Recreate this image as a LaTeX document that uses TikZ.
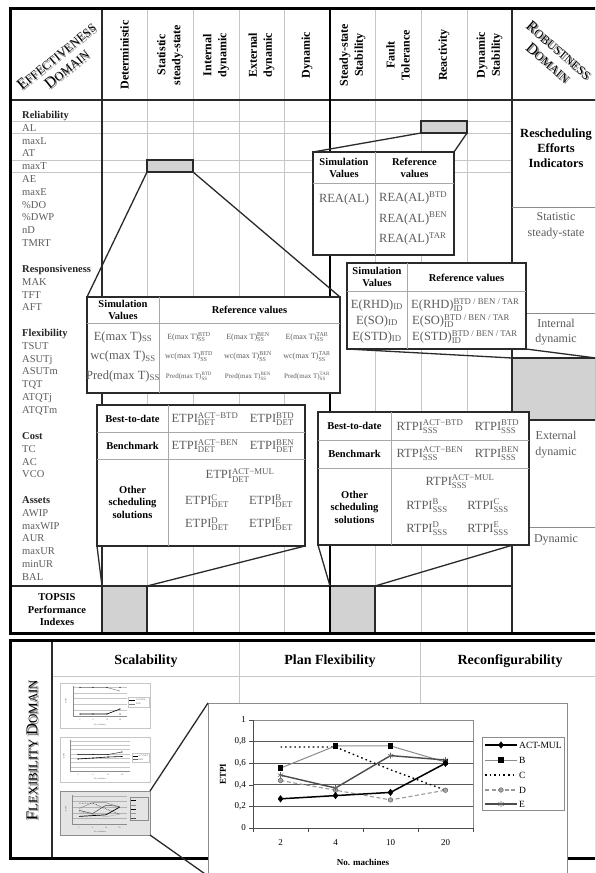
\documentclass[tikz,border=0pt]{standalone}
\usepackage{fontspec}
\setmainfont{Liberation Serif}
\usepackage{amsmath}
\usetikzlibrary{plotmarks}
\definecolor{lightln}{HTML}{C6C6C6}
\definecolor{midln}{HTML}{8C8C8C}
\definecolor{popln}{HTML}{A8A8A8}
\definecolor{darkln}{HTML}{2A2A2A}
\definecolor{txtgray}{HTML}{5C5C5C}
\definecolor{boxgray}{HTML}{D2D2D2}
\definecolor{thumbfill}{HTML}{E4E4E4}
\definecolor{shadowgray}{HTML}{8A8A8A}
\newcommand\fsz[1]{\fontsize{#1}{#1}\selectfont}
\newcommand\sps[3]{#1$^{\text{#3}}_{\text{#2}}$}
\newcommand\sbo[2]{#1$_{\text{#2}}$}
\newcommand\spo[2]{#1$^{\text{#2}}$}
\begin{document}
\begin{tikzpicture}[x=1pt,y=-1pt,
  lightl/.style={draw=lightln,line width=0.8pt},
  midl/.style={draw=midln,line width=0.9pt},
  popl/.style={draw=popln,line width=0.8pt},
  darkl/.style={draw=darkln,line width=1.3pt},
  thickl/.style={draw=black,line width=2.6pt},
  frame/.style={draw=black,line width=3pt},
  graybox/.style={draw=darkln,line width=1.2pt,fill=boxgray,inner sep=0pt,outer sep=0pt,anchor=north west},
  popup/.style={draw=darkln,line width=1.5pt,fill=white,inner sep=0pt,outer sep=0pt,anchor=north west},
  callout/.style={draw=darkln,line width=1.3pt},
  cat/.style={anchor=base west,inner sep=0pt,font=\fsz{10.5}\bfseries,text=black!85},
  item/.style={anchor=base west,inner sep=0pt,font=\fsz{10.5},text=txtgray},
  colhdr/.style={rotate=90,align=center,inner sep=0pt,font=\fontsize{12}{15}\selectfont\bfseries},
  phdr/.style={align=center,inner sep=0pt,font=\fontsize{10.5}{12.5}\selectfont\bfseries},
  val/.style={inner sep=0pt,font=\fsz{12.5},text=txtgray},
  sval/.style={inner sep=0pt,font=\fsz{8},text=txtgray},
  rlbl/.style={align=center,inner sep=0pt,font=\fontsize{12}{15.5}\selectfont,text=txtgray},
  dom/.style={align=center,inner sep=0pt,font=\fontsize{12.3}{16.5}\selectfont},
  thumb/.style={draw=lightln,line width=0.6pt,fill=white,inner sep=0pt,outer sep=0pt,anchor=north west},
  tiny/.style={inner sep=0pt,font=\fsz{2.2},text=txtgray},
  sAM/.style={draw=black,line width=1.5pt},
  mAM/.style={mark=diamond*,mark size=3.3pt,mark options={fill=black,draw=black,solid,line width=0.4pt}},
  sB/.style={draw=black!45,line width=1pt},
  mB/.style={mark=square*,mark size=2.4pt,mark options={fill=black,draw=black,solid}},
  sC/.style={draw=black,line width=1.3pt,dash pattern=on 1.6pt off 3pt},
  sD/.style={draw=black!40,line width=1.1pt,dash pattern=on 4pt off 2.5pt},
  mD/.style={mark=*,mark size=2.3pt,mark options={fill=black!35,draw=black!60,solid,line width=0.5pt}},
  sE/.style={draw=black!70,line width=1.4pt},
  mE/.style={mark=asterisk,mark size=3pt,mark options={draw=black!60,solid,line width=0.6pt}},
]
\clip (0,0) rectangle (595,873);
\fill[white] (0,0) rectangle (595,873);

% ================= TOP SECTION GRID =================
\foreach \yy in {121,133,160,172} \draw[lightl] (10,\yy) -- (512,\yy);
\foreach \xx in {147,193,239,284,375,421,467} \draw[lightl] (\xx,8) -- (\xx,633);
\draw[darkl] (10,100) -- (596,100);
\draw[darkl,line width=1.1pt] (10,586) -- (512,586);
\draw[darkl] (102,8) -- (102,633);
\draw[darkl] (512,8) -- (512,633);
\foreach \yy in {207,313,527} \draw[midl] (512,\yy) -- (596,\yy);

\node[graybox,minimum width=46,minimum height=12] (gE) at (147,160) {};
\node[graybox,minimum width=46,minimum height=12] (gR) at (421,121) {};
\node[graybox,minimum width=84,minimum height=62] (gRI) at (512,358) {};
\node[graybox,minimum width=45,minimum height=47] (gT1) at (102,586) {};
\node[graybox,minimum width=45,minimum height=47] (gT2) at (330,586) {};

\draw[thickl] (330,8) -- (330,633);
\draw[frame] (10,8) rectangle (596,633);

% ================= DOMAIN TITLES =================
\node[dom,rotate=39,text=shadowgray] (effS) at (62.9,63.9) {{\fsz{15.5}E}FFECTIVENESS\\{\fsz{15.5}D}OMAIN};
\node[dom,rotate=39,text=black] (eff) at (61.5,62.5) {{\fsz{15.5}E}FFECTIVENESS\\{\fsz{15.5}D}OMAIN};
\node[dom,rotate=-41,text=shadowgray] (robS) at (554.9,57.9) {{\fsz{15.5}R}OBUSTNESS\\{\fsz{15.5}D}OMAIN};
\node[dom,rotate=-41,text=black] (rob) at (553.5,56.5) {{\fsz{15.5}R}OBUSTNESS\\{\fsz{15.5}D}OMAIN};

% ================= COLUMN HEADERS =================
\node[colhdr] (hDet) at (124.5,55) {Deterministic};
\node[colhdr] (hSta) at (170,55) {Statistic\\steady-state};
\node[colhdr] (hInt) at (216,55) {Internal\\dynamic};
\node[colhdr] (hExt) at (261.5,55) {External\\dynamic};
\node[colhdr] (hDyn) at (307,55) {Dynamic};
\node[colhdr] (hSSS) at (352.5,55) {Steady-state\\Stability};
\node[colhdr] (hFT) at (398,55) {Fault\\Tolerance};
\node[colhdr] (hRea) at (444,55) {Reactivity};
\node[colhdr] (hDS) at (489.5,55) {Dynamic\\Stability};

% ================= LEFT LABELS =================
\foreach \t/\yy [count=\i] in {Reliability/118.5,Responsiveness/272.5,Flexibility/336.5,Cost/439.5,Assets/503.5}
  \node[cat] (cat\i) at (22,\yy) {\t};
\foreach \t/\yy [count=\i] in {AL/131.3,maxL/144.1,AT/156.9,maxT/169.7,AE/182.5,maxE/195.3,\%DO/208.1,\%DWP/220.9,nD/233.7,TMRT/246.5,
  MAK/285.3,TFT/298.1,AFT/310.9,
  TSUT/349.3,ASUTj/362.1,ASUTm/374.9,TQT/387.7,ATQTj/400.5,ATQTm/413.3,
  TC/452.3,AC/465.1,VCO/477.9,
  AWIP/516.3,maxWIP/529.1,AUR/541.9,maxUR/554.7,minUR/567.5,BAL/580.3}
  \node[item] (it\i) at (22,\yy) {\t};
\node[phdr] (topsis) at (57,610) {TOPSIS\\Performance\\Indexes};

% ================= RIGHT COLUMN LABELS =================
\node[align=center,inner sep=0pt,font=\fontsize{12.5}{15}\selectfont\bfseries] (rei) at (556,148) {Rescheduling\\Efforts\\Indicators};
\node[rlbl] (rSta) at (556,226) {Statistic\\steady-state};
\node[rlbl] (rInt) at (556,332) {Internal\\dynamic};
\node[rlbl] (rExt) at (556,444.5) {External\\dynamic};
\node[rlbl] (rDyn) at (556,540) {Dynamic};

% ================= POPUP E1 =================
\node[popup,minimum width=253,minimum height=96] (e1) at (87,297) {};
\draw[popl] (159,297) -- (159,393);
\draw[popl] (87,323) -- (340,323);
\node[phdr] (e1h1) at (123,310) {Simulation\\Values};
\node[phdr] (e1h2) at (249.5,310) {Reference values};
\node[val] (e1a) at (123,337) {\sbo{E(max T)}{SS}};
\node[val] (e1b) at (123,356.5) {\sbo{wc(max T)}{SS}};
\node[val] (e1c) at (123,376) {\sbo{Pred(max T)}{SS}};
\node[sval] (e1a1) at (189,337) {\sps{E(max T)}{SS}{BTD}};
\node[sval] (e1a2) at (248,337) {\sps{E(max T)}{SS}{BEN}};
\node[sval] (e1a3) at (307,337) {\sps{E(max T)}{SS}{TAR}};
\node[sval] (e1b1) at (189,356.5) {\sps{wc(max T)}{SS}{BTD}};
\node[sval] (e1b2) at (248,356.5) {\sps{wc(max T)}{SS}{BEN}};
\node[sval] (e1b3) at (307,356.5) {\sps{wc(max T)}{SS}{TAR}};
\node[sval,font=\fsz{7}] (e1c1) at (189,376) {\sps{Pred(max T)}{SS}{BTD}};
\node[sval,font=\fsz{7}] (e1c2) at (248,376) {\sps{Pred(max T)}{SS}{BEN}};
\node[sval,font=\fsz{7}] (e1c3) at (307,376) {\sps{Pred(max T)}{SS}{TAR}};

% ================= POPUP E2 =================
\node[popup,minimum width=208,minimum height=141] (e2) at (97,405) {};
\draw[popl] (168,405) -- (168,546);
\draw[popl] (97,432) -- (305,432);
\draw[popl] (97,459) -- (305,459);
\node[phdr] (e2h1) at (132.5,419) {Best-to-date};
\node[phdr] (e2h2) at (132.5,446) {Benchmark};
\node[phdr] (e2h3) at (132.5,502) {Other\\scheduling\\solutions};
\node[val] (e2a1) at (205,419) {\sps{ETPI}{DET}{ACT−BTD}};
\node[val] (e2a2) at (272,419) {\sps{ETPI}{DET}{BTD}};
\node[val] (e2b1) at (205,446) {\sps{ETPI}{DET}{ACT−BEN}};
\node[val] (e2b2) at (272,446) {\sps{ETPI}{DET}{BEN}};
\node[val] (e2c0) at (240,475.5) {\sps{ETPI}{DET}{ACT−MUL}};
\node[val] (e2c1) at (207,501) {\sps{ETPI}{DET}{C}};
\node[val] (e2c2) at (271,501) {\sps{ETPI}{DET}{B}};
\node[val] (e2c3) at (207,524) {\sps{ETPI}{DET}{D}};
\node[val] (e2c4) at (271,524) {\sps{ETPI}{DET}{E}};

% ================= POPUP R1 =================
\node[popup,minimum width=141,minimum height=103] (r1) at (313,152) {};
\draw[popl] (375,152) -- (375,255);
\draw[popl] (313,183) -- (454,183);
\node[phdr] (r1h1) at (344,168) {Simulation\\Values};
\node[phdr] (r1h2) at (414.5,168) {Reference\\values};
\node[val] (r1a) at (344,199) {REA(AL)};
\node[val,anchor=west] (r1b1) at (379,198) {\spo{REA(AL)}{BTD}};
\node[val,anchor=west] (r1b2) at (379,218.5) {\spo{REA(AL)}{BEN}};
\node[val,anchor=west] (r1b3) at (379,239) {\spo{REA(AL)}{TAR}};

% ================= POPUP R2 =================
\node[popup,minimum width=179,minimum height=86] (r2) at (347,263) {};
\draw[popl] (407,263) -- (407,349);
\draw[popl] (347,291) -- (526,291);
\node[phdr] (r2h1) at (377,277) {Simulation\\Values};
\node[phdr] (r2h2) at (466.5,278) {Reference values};
\node[val] (r2a) at (377,305) {\sbo{E(RHD)}{ID}};
\node[val] (r2b) at (377,321) {\sbo{E(SO)}{ID}};
\node[val] (r2c) at (377,337) {\sbo{E(STD)}{ID}};
\node[val,anchor=west] (r2a1) at (411,305) {\sps{E(RHD)}{ID}{BTD / BEN / TAR}};
\node[val,anchor=west] (r2b1) at (412,321) {\sps{E(SO)}{ID}{BTD / BEN / TAR}};
\node[val,anchor=west] (r2c1) at (412,337) {\sps{E(STD)}{ID}{BTD / BEN / TAR}};

% ================= POPUP R3 =================
\node[popup,minimum width=211,minimum height=133] (r3) at (318,412) {};
\draw[popl] (391,412) -- (391,545);
\draw[popl] (318,440) -- (529,440);
\draw[popl] (318,468) -- (529,468);
\node[phdr] (r3h1) at (354.5,426) {Best-to-date};
\node[phdr] (r3h2) at (354.5,454) {Benchmark};
\node[phdr] (r3h3) at (354.5,507) {Other\\scheduling\\solutions};
\node[val] (r3a1) at (430,427) {\sps{RTPI}{SSS}{ACT−BTD}};
\node[val] (r3a2) at (497,427) {\sps{RTPI}{SSS}{BTD}};
\node[val] (r3b1) at (430,454) {\sps{RTPI}{SSS}{ACT−BEN}};
\node[val] (r3b2) at (497,454) {\sps{RTPI}{SSS}{BEN}};
\node[val] (r3c0) at (460,482) {\sps{RTPI}{SSS}{ACT−MUL}};
\node[val] (r3c1) at (427,506) {\sps{RTPI}{SSS}{B}};
\node[val] (r3c2) at (488,506) {\sps{RTPI}{SSS}{C}};
\node[val] (r3c3) at (427,529) {\sps{RTPI}{SSS}{D}};
\node[val] (r3c4) at (488,529) {\sps{RTPI}{SSS}{E}};

% ================= CALLOUTS (top) =================
\coordinate (r3cut) at (513,545);
\draw[callout] (gE.south west) -- (e1.north west);
\draw[callout] (gE.south east) -- (e1.north east);
\draw[callout] (e2.south west) -- (gT1.north west);
\draw[callout] (e2.south east) -- (gT1.north east);
\draw[callout] (gR.south west) -- (r1.north west);
\draw[callout] (gR.south east) -- (r1.north east);
\draw[callout] (r2.south west) -- (gRI.north west);
\draw[callout] (r2.south east) -- (gRI.north east);
\draw[callout] (r3.south west) -- (gT2.north west);
\draw[callout] (r3cut) -- (gT2.north east);

% ================= BOTTOM SECTION =================
\draw[lightl] (239,640) -- (239,858);
\draw[lightl] (420,640) -- (420,858);
\draw[lightl] (52,676) -- (596,676);
\draw[darkl,line width=1.1pt] (52,640) -- (52,858);
\draw[frame] (10,640) rectangle (596,858);
\node[font=\fsz{14}\bfseries,inner sep=0pt] (sca) at (146,661) {Scalability};
\node[font=\fsz{14}\bfseries,inner sep=0pt] (pla) at (330,661) {Plan Flexibility};
\node[font=\fsz{14}\bfseries,inner sep=0pt] (rec) at (510,661) {Reconfigurability};
\node[dom,rotate=90,text=shadowgray,font=\fsz{13}] (flxS) at (33.4,751.4) {{\fsz{16.5}F}LEXIBILITY {\fsz{16.5}D}OMAIN};
\node[dom,rotate=90,text=black,font=\fsz{13}] (flx) at (32,750) {{\fsz{16.5}F}LEXIBILITY {\fsz{16.5}D}OMAIN};

% ---- thumbnail 1
\node[thumb,minimum width=90,minimum height=45] (t1) at (60,683) {};
\foreach \yy in {687,692.8,698.6,704.4,710.2,716} \draw[draw=lightln,line width=0.3pt] (73,\yy) -- (127,\yy);
\draw[draw=midln,line width=0.4pt] (73,686) -- (73,716) -- (127,716);
\draw[draw=black!50,line width=0.5pt] (80,687.5) -- (93,687.5) -- (107,687.5) -- (120,691);
\draw[draw=black,line width=0.6pt] (80,714) -- (93,714) -- (107,714) -- (120,709);
\foreach \xx in {80,93,107,120} {\fill[black] (\xx,687.5) circle (0.7); \fill[black] (\xx,714) circle (0.7);}
\fill[black] (120,709) circle (0.7);
\draw[draw=lightln,line width=0.4pt] (128,697) rectangle (149,707);
\draw[black,line width=0.4pt] (129,700) -- (135,700); \draw[black!50,line width=0.4pt] (129,704) -- (135,704);
\node[tiny,anchor=west] (t1l1) at (136,700) {ACT-MUL};
\node[tiny,anchor=west] (t1l2) at (136,704) {BTD};
\foreach \xx/\lab in {80/2,93/4,107/10,120/20} \node[tiny] at (\xx,720) {\lab};
\node[tiny] (t1x) at (100,724.5) {No. machines};
\node[tiny,rotate=90] (t1y) at (66,701) {ETPI};

% ---- thumbnail 2
\node[thumb,minimum width=90,minimum height=45] (t2) at (60,737) {};
\foreach \yy in {741,745.3,749.6,753.9,758.2,762.5,766.8,771} \draw[draw=lightln,line width=0.3pt] (70,\yy) -- (130,\yy);
\draw[draw=midln,line width=0.4pt] (70,740) -- (70,771) -- (130,771);
\draw[draw=black!70,line width=0.6pt] (78,754.5) -- (93,754.5) -- (108,754.5) -- (122,752);
\draw[draw=black,line width=0.6pt] (78,759) -- (93,758) -- (108,757) -- (122,756.5);
\foreach \xx/\ya/\yb in {78/754.5/759,93/754.5/758,108/754.5/757,122/752/756.5} {\fill[black] (\xx,\ya) circle (0.7); \fill[black] (\xx,\yb) circle (0.7);}
\draw[draw=lightln,line width=0.4pt] (132,753) rectangle (149,762);
\draw[black,line width=0.4pt] (133,756) -- (138,756); \draw[black!60,line width=0.4pt] (133,759.5) -- (138,759.5);
\node[tiny,anchor=west] (t2l1) at (138.5,756) {ACT-MUL};
\node[tiny,anchor=west] (t2l2) at (138.5,759.5) {BEN};
\foreach \xx/\lab in {78/2,93/4,108/10,122/20} \node[tiny] at (\xx,775) {\lab};
\node[tiny] (t2x) at (100,779) {No. machines};
\node[tiny,rotate=90] (t2y) at (64,756) {ETPI};

% ---- thumbnail 3 (highlighted)
\node[thumb,draw=midln,fill=thumbfill,minimum width=90,minimum height=44] (t3) at (60,791) {};
\foreach \yy in {796,801.6,807.2,812.8,818.4,824} \draw[draw=black!30,line width=0.3pt] (72,\yy) -- (127,\yy);
\draw[draw=midln,line width=0.4pt] (72,795) -- (72,824) -- (127,824);
\draw[draw=black!45,line width=0.5pt] (79,808.5) -- (92.5,802.7) -- (106,802.7) -- (119.5,806.9);
\draw[draw=black,line width=0.5pt,dash pattern=on 0.6pt off 1pt] (79,803) -- (92.5,803) -- (106,808.9) -- (119.5,814.2);
\draw[draw=black!40,line width=0.5pt,dash pattern=on 1.2pt off 0.8pt] (79,811.7) -- (92.5,814.2) -- (106,816.7) -- (119.5,814.2);
\draw[draw=black!70,line width=0.5pt] (79,810.3) -- (92.5,813.6) -- (106,805.2) -- (119.5,806.4);
\draw[draw=black,line width=0.7pt] (79,816.4) -- (92.5,815.6) -- (106,814.8) -- (119.5,807.2);
\draw[draw=midln,line width=0.4pt] (130,797) rectangle (148,820);
\foreach \yy/\c in {800.5/black,804.8/black!45,809.1/black,813.4/black!40,817.7/black!70} \draw[\c,line width=0.4pt] (131,\yy) -- (136,\yy);
\foreach \xx/\lab in {79/2,92.5/4,106/10,119.5/20} \node[tiny] at (\xx,827.5) {\lab};
\node[tiny] (t3x) at (100,831.5) {No. machines};
\node[tiny,rotate=90] (t3y) at (66,809) {ETPI};

% ---- big chart popup
\node[thumb,draw=midln,line width=1pt,minimum width=359,minimum height=173] (cp) at (208,703) {};
\draw[callout] (t3.north east) -- (cp.north west);
\draw[callout] (t3.south east) -- (cp.south west);
\draw[draw=midln,line width=0.8pt] (253,720) rectangle (473,828);
\foreach \v in {0.2,0.4,0.6,0.8} \draw[draw=black!65,line width=0.9pt] (253,828-108*\v) -- (473,828-108*\v);
\draw[draw=black!70,line width=0.8pt] (253,720) -- (253,828) -- (473,828);
\foreach \v/\lab in {0/0,0.2/{0,2},0.4/{0,4},0.6/{0,6},0.8/{0,8},1/1} {
  \draw[draw=black!70,line width=0.6pt] (249,828-108*\v) -- (253,828-108*\v);
  \node[anchor=east,inner sep=0pt,font=\fsz{9}] at (246,828-108*\v) {\lab};}
\foreach \xx in {253,308,363,418,473} \draw[draw=black!70,line width=0.6pt] (\xx,828) -- (\xx,832);
\foreach \xx/\lab in {280.5/2,335.5/4,390.5/10,445.5/20} \node[inner sep=0pt,font=\fsz{9}] at (\xx,843) {\lab};
\node[inner sep=0pt,font=\fsz{9}\bfseries] (cx) at (363,862) {No. machines};
\node[inner sep=0pt,font=\fsz{9}\bfseries,rotate=90] (cy) at (223,774) {ETPI};

\draw[sC] plot coordinates {(280.5,747) (335.5,747) (390.5,769.7) (445.5,790.2)};
\draw[sD,mD] plot coordinates {(280.5,780.5) (335.5,790.2) (390.5,799.9) (445.5,790.2)};
\draw[sB,mB] plot coordinates {(280.5,768.1) (335.5,745.9) (390.5,745.9) (445.5,762.1)};
\draw[sE,mE] plot coordinates {(280.5,775.1) (335.5,788.0) (390.5,755.6) (445.5,760)};
\draw[sAM,mAM] plot coordinates {(280.5,798.8) (335.5,795.6) (390.5,792.4) (445.5,763.2)};

% legend
\node[thumb,draw=midln,line width=0.9pt,minimum width=82,minimum height=73] (leg) at (482,737) {};
\draw[sAM] (485,745) -- (517,745); \draw[sAM,mAM] plot[only marks] coordinates {(501,745)};
\draw[sB] (485,760) -- (517,760); \draw[sB,mB] plot[only marks] coordinates {(501,760)};
\draw[sC] (485,775) -- (517,775);
\draw[sD] (485,790) -- (517,790); \draw[sD,mD] plot[only marks] coordinates {(501,790)};
\draw[sE] (485,804) -- (517,804); \draw[sE,mE] plot[only marks] coordinates {(501,804)};
\node[anchor=west,inner sep=0pt,font=\fsz{9.5}] (lg1) at (519,745) {ACT-MUL};
\node[anchor=west,inner sep=0pt,font=\fsz{9.5}] (lg2) at (519,760) {B};
\node[anchor=west,inner sep=0pt,font=\fsz{9.5}] (lg3) at (519,775) {C};
\node[anchor=west,inner sep=0pt,font=\fsz{9.5}] (lg4) at (519,790) {D};
\node[anchor=west,inner sep=0pt,font=\fsz{9.5}] (lg5) at (519,804) {E};
\end{tikzpicture}
\end{document}
